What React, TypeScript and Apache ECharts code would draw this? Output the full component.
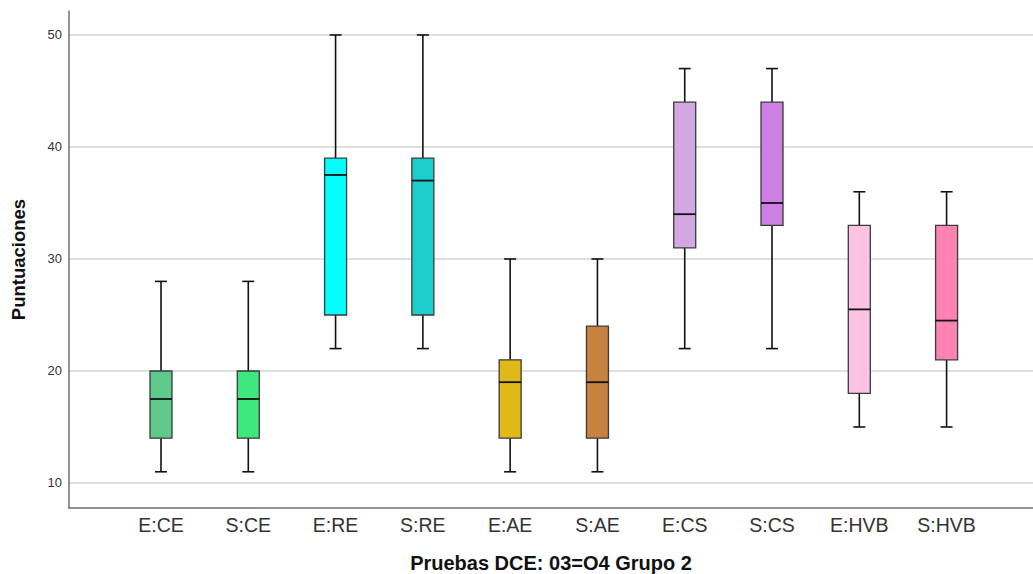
import React, { useEffect, useRef } from "react";
import * as echarts from "echarts";

// Test groups shown along the horizontal axis
const categories = ["E:CE", "S:CE", "E:RE", "S:RE", "E:AE", "S:AE", "E:CS", "S:CS", "E:HVB", "S:HVB"];

// Five-number summaries per group: [min, Q1, median, Q3, max]
const lowWhisker = [11, 11, 22, 22, 11, 11, 22, 22, 15, 15];
const q1 = [14, 14, 25, 25, 14, 14, 31, 33, 18, 21];
const median = [17.5, 17.5, 37.5, 37, 19, 19, 34, 35, 25.5, 24.5];
const q3 = [20, 20, 39, 39, 21, 24, 44, 44, 33, 33];
const highWhisker = [28, 28, 50, 50, 30, 30, 47, 47, 36, 36];

const boxColors = [
  "#5ec98a",
  "#3fe87c",
  "#00ffff",
  "#1ecdcd",
  "#e0b919",
  "#c8823f",
  "#d3a7e3",
  "#cd7fe3",
  "#fec3e2",
  "#fe82b2",
];

const yTicks = [10, 20, 30, 40, 50];

export default function App() {
  const ref = useRef<HTMLDivElement>(null);

  useEffect(() => {
    if (!ref.current) return;
    const chart = echarts.init(ref.current, null, { renderer: "svg" });

    const data = categories.map((_, i) => [i, lowWhisker[i], q1[i], median[i], q3[i], highWhisker[i]]);

    const renderItem = (params: any, api: any) => {
      const i = api.value(0);
      const [cx, yMin] = api.coord([i, api.value(1)]);
      const yQ1 = api.coord([i, api.value(2)])[1];
      const yMed = api.coord([i, api.value(3)])[1];
      const yQ3 = api.coord([i, api.value(4)])[1];
      const yMax = api.coord([i, api.value(5)])[1];
      const boxW = 22;
      const capW = 12;
      const lineStyle = { stroke: "#111", lineWidth: 1.6 };
      return {
        type: "group",
        children: [
          { type: "line", shape: { x1: cx, y1: yMax, x2: cx, y2: yQ3 }, style: lineStyle },
          { type: "line", shape: { x1: cx, y1: yQ1, x2: cx, y2: yMin }, style: lineStyle },
          { type: "line", shape: { x1: cx - capW / 2, y1: yMax, x2: cx + capW / 2, y2: yMax }, style: lineStyle },
          { type: "line", shape: { x1: cx - capW / 2, y1: yMin, x2: cx + capW / 2, y2: yMin }, style: lineStyle },
          {
            type: "rect",
            shape: { x: cx - boxW / 2, y: yQ3, width: boxW, height: yQ1 - yQ3 },
            style: { fill: boxColors[i], stroke: "#3a3a3a", lineWidth: 1.3 },
          },
          { type: "line", shape: { x1: cx - boxW / 2, y1: yMed, x2: cx + boxW / 2, y2: yMed }, style: { stroke: "#111", lineWidth: 1.8 } },
        ],
      };
    };

    chart.setOption({
      animation: false,
      backgroundColor: "#ffffff",
      grid: { left: 69, right: 0, top: 11, bottom: 66, containLabel: false, outerBoundsMode: "none" },
      xAxis: {
        type: "value",
        min: -1.054,
        max: 9.99,
        name: "Pruebas DCE: 03=O4 Grupo 2",
        nameLocation: "middle",
        nameGap: 45,
        nameTextStyle: { fontFamily: "Liberation Sans, Arial, sans-serif", fontWeight: "bold", fontSize: 20, color: "#111" },
        axisLine: { show: true, onZero: false, lineStyle: { color: "#6f6f6f", width: 1.5 } },
        axisTick: { show: false },
        splitLine: { show: false },
        axisLabel: {
          customValues: categories.map((_, i) => i),
          formatter: (v: number) => categories[Math.round(v)] ?? "",
          fontFamily: "Liberation Sans, Arial, sans-serif",
          fontSize: 19.5,
          color: "#333",
          margin: 7,
        },
      },
      yAxis: {
        type: "value",
        min: 7.768,
        max: 52.14,
        name: "Puntuaciones",
        nameLocation: "middle",
        nameGap: 41,
        nameRotate: 90,
        nameTextStyle: { fontFamily: "Liberation Sans, Arial, sans-serif", fontWeight: "bold", fontSize: 18.5, color: "#111" },
        axisLine: { show: true, onZero: false, lineStyle: { color: "#6f6f6f", width: 1.5 } },
        axisTick: { show: false, customValues: yTicks },
        axisLabel: {
          customValues: yTicks,
          fontFamily: "Liberation Sans, Arial, sans-serif",
          fontSize: 13,
          color: "#333",
          margin: 7,
        },
        splitLine: { show: true, lineStyle: { color: "#d4d4d4", width: 1.5 } },
      },
      series: [
        {
          type: "custom",
          renderItem,
          data,
          encode: { x: 0, y: [1, 2, 3, 4, 5] },
        },
      ],
    });

    return () => chart.dispose();
  }, []);

  return (
    <div
      ref={ref}
      style={{ position: "fixed", left: 0, top: 0, width: 1033, height: 574, background: "#fff" }}
    />
  );
}
